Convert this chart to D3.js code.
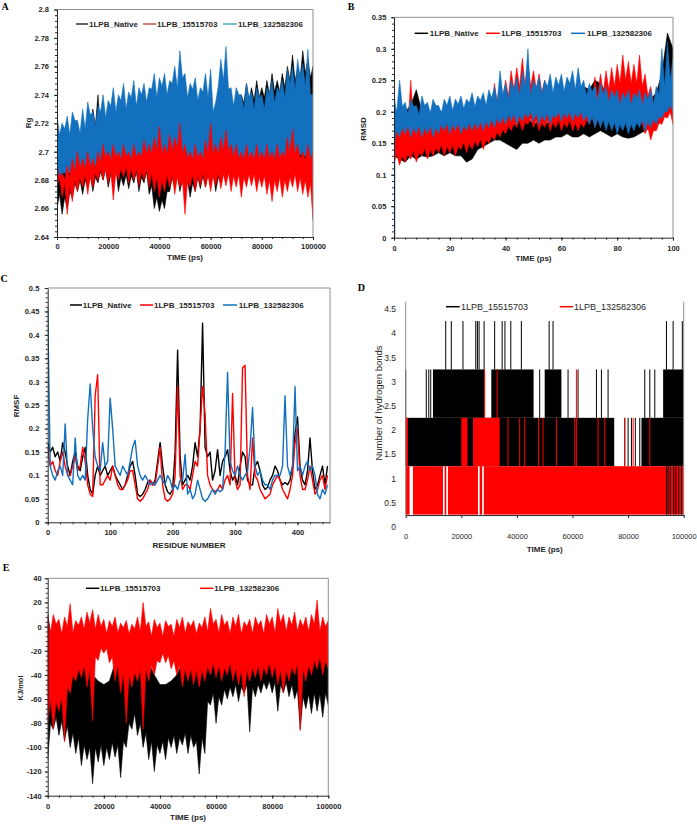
<!DOCTYPE html>
<html><head><meta charset="utf-8">
<script src="https://cdn.jsdelivr.net/npm/d3@7/dist/d3.min.js"></script>
<style>body{margin:0;background:#fff}svg{display:block}</style>
</head><body>
<script>
// ---------------- DATA ----------------
// Panel A : Rg vs time (ps). Upper / lower envelope of each noisy trace, evenly spaced over 0..100000 ps
const rgTimeMax = 100000;
const rgNativeHi = [2.700,2.692,2.700,2.694,2.705,2.698,2.710,2.700,2.712,2.704,
 2.715,2.706,2.720,2.712,2.730,2.718,2.740,2.715,2.720,2.710,
 2.715,2.708,2.720,2.712,2.720,2.712,2.725,2.714,2.720,2.712,
 2.725,2.714,2.720,2.712,2.725,2.716,2.730,2.716,2.725,2.716,
 2.730,2.715,2.720,2.714,2.725,2.718,2.730,2.722,2.735,2.722,
 2.730,2.716,2.720,2.714,2.725,2.714,2.720,2.714,2.725,2.718,
 2.730,2.715,2.720,2.718,2.730,2.720,2.730,2.722,2.735,2.728,
 2.740,2.730,2.740,2.734,2.748,2.736,2.745,2.736,2.750,2.738,
 2.745,2.738,2.750,2.740,2.755,2.742,2.750,2.742,2.755,2.745,
 2.760,2.750,2.768,2.750,2.758,2.752,2.771,2.755,2.765,2.752,2.760];
const rgNativeLo = [2.660,2.670,2.656,2.668,2.660,2.672,2.668,2.678,2.672,2.680,
 2.670,2.680,2.675,2.683,2.672,2.682,2.678,2.686,2.680,2.688,
 2.675,2.684,2.680,2.688,2.672,2.682,2.676,2.684,2.674,2.683,
 2.678,2.686,2.672,2.682,2.678,2.686,2.670,2.676,2.660,2.668,
 2.658,2.666,2.660,2.672,2.672,2.682,2.675,2.684,2.672,2.680,
 2.670,2.680,2.668,2.678,2.672,2.682,2.674,2.683,2.675,2.684,
 2.676,2.685,2.672,2.682,2.678,2.686,2.680,2.688,2.678,2.686,
 2.680,2.688,2.676,2.685,2.680,2.688,2.682,2.690,2.680,2.688,
 2.685,2.692,2.680,2.689,2.682,2.690,2.685,2.692,2.685,2.692,
 2.685,2.692,2.688,2.695,2.690,2.696,2.688,2.695,2.690,2.696,2.680];
const rgRedHi = [2.690,2.682,2.685,2.680,2.690,2.682,2.695,2.686,2.700,2.688,
 2.695,2.688,2.700,2.689,2.695,2.688,2.700,2.692,2.705,2.696,
 2.700,2.694,2.705,2.696,2.700,2.694,2.705,2.696,2.700,2.694,
 2.705,2.696,2.700,2.696,2.708,2.698,2.705,2.698,2.710,2.700,
 2.718,2.698,2.705,2.698,2.712,2.700,2.710,2.702,2.720,2.698,
 2.705,2.695,2.700,2.694,2.705,2.695,2.700,2.694,2.708,2.698,
 2.720,2.698,2.705,2.698,2.710,2.700,2.715,2.700,2.705,2.696,
 2.705,2.695,2.700,2.694,2.705,2.695,2.700,2.694,2.705,2.695,
 2.700,2.694,2.705,2.695,2.700,2.694,2.705,2.695,2.700,2.696,
 2.710,2.698,2.716,2.698,2.705,2.695,2.700,2.694,2.705,2.694,2.700];
const rgRedLo = [2.675,2.682,2.668,2.678,2.656,2.676,2.665,2.680,2.672,2.682,
 2.675,2.684,2.670,2.683,2.675,2.685,2.680,2.688,2.680,2.688,
 2.678,2.686,2.666,2.686,2.680,2.688,2.682,2.690,2.678,2.688,
 2.680,2.688,2.676,2.686,2.680,2.688,2.675,2.685,2.672,2.682,
 2.668,2.680,2.672,2.683,2.675,2.684,2.670,2.682,2.675,2.680,
 2.656,2.680,2.675,2.684,2.672,2.683,2.676,2.685,2.675,2.684,
 2.672,2.683,2.676,2.685,2.674,2.684,2.676,2.685,2.672,2.683,
 2.675,2.684,2.668,2.682,2.675,2.684,2.676,2.684,2.672,2.682,
 2.675,2.683,2.670,2.680,2.665,2.680,2.672,2.682,2.668,2.680,
 2.672,2.682,2.675,2.684,2.672,2.682,2.670,2.680,2.668,2.678,2.652];
const rgBlueHi = [2.725,2.712,2.720,2.716,2.725,2.712,2.728,2.722,2.722,2.713,
 2.730,2.716,2.735,2.726,2.728,2.718,2.732,2.728,2.740,2.724,
 2.736,2.732,2.745,2.728,2.740,2.736,2.748,2.730,2.742,2.738,
 2.750,2.732,2.745,2.740,2.748,2.735,2.745,2.744,2.755,2.738,
 2.752,2.746,2.755,2.740,2.750,2.748,2.760,2.745,2.771,2.752,
 2.755,2.738,2.748,2.744,2.752,2.736,2.745,2.742,2.755,2.738,
 2.758,2.728,2.735,2.746,2.765,2.750,2.774,2.744,2.745,2.732,
 2.745,2.740,2.740,2.730,2.748,2.738,2.742,2.730,2.745,2.738,
 2.740,2.730,2.745,2.740,2.750,2.734,2.745,2.742,2.750,2.738,
 2.758,2.748,2.760,2.744,2.765,2.752,2.762,2.746,2.772,2.740,2.740];
const rgBlueLo = [2.680,2.685,2.685,2.685,2.688,2.688,2.688,2.690,2.690,2.692,2.692,2.694,2.694,2.694,2.694,2.695,2.695,2.695,2.696,2.696,2.696,2.696,2.696,2.698,2.698,2.696,2.695,2.695,2.695,2.695,2.698,2.695,2.698,2.700,2.696,2.695,2.695,2.695,2.695,2.695,2.695,2.695,2.695,2.695,2.695,2.698,2.698,2.698,2.698,2.696,2.695];
const rgTicks = [2.64,2.66,2.68,2.70,2.72,2.74,2.76,2.78,2.80];
const timeTicks = [0,20000,40000,60000,80000,100000];

// Panel B : RMSD vs time (ns)
const rmsdTimeMax = 100;
const rmsdStart = 0;
const rmsdNativeHi = [0.19,0.20,0.20,0.21,0.235,0.20,0.20,0.195,0.20,0.20,0.20,0.20,0.205,0.20,0.21,0.20,0.205,0.20,0.19,0.19,0.18,0.18,0.18,0.21,0.19,0.18,0.185,0.18,0.185,0.19,0.20,0.20,0.21,0.22,0.24,0.235,0.25,0.245,0.23,0.22,0.22,0.215,0.22,0.215,0.22,0.21,0.22,0.23,0.26,0.325,0.30];
const rmsdNativeLo = [0.13,0.125,0.12,0.13,0.125,0.13,0.128,0.13,0.135,0.13,0.135,0.13,0.13,0.12,0.125,0.14,0.145,0.15,0.155,0.155,0.15,0.145,0.14,0.15,0.15,0.155,0.15,0.155,0.155,0.16,0.16,0.165,0.16,0.16,0.165,0.16,0.165,0.17,0.165,0.16,0.165,0.16,0.158,0.16,0.165,0.17,0.175,0.18,0.19,0.20,0.20];
const rmsdRedHi = [0.18,0.17,0.19,0.175,0.20,0.18,0.25,0.18,0.19,0.175,
 0.185,0.175,0.19,0.175,0.185,0.175,0.19,0.178,0.19,0.178,
 0.195,0.18,0.19,0.18,0.195,0.18,0.19,0.18,0.20,0.182,
 0.195,0.182,0.20,0.19,0.22,0.20,0.245,0.215,0.24,0.22,
 0.25,0.225,0.265,0.235,0.27,0.24,0.285,0.24,0.275,0.24,
 0.265,0.235,0.26,0.23,0.25,0.22,0.24,0.21,0.22,0.20,
 0.215,0.198,0.225,0.20,0.21,0.198,0.22,0.20,0.215,0.20,
 0.23,0.21,0.255,0.225,0.26,0.23,0.265,0.235,0.27,0.24,
 0.275,0.245,0.29,0.25,0.28,0.245,0.275,0.245,0.29,0.24,
 0.26,0.225,0.24,0.21,0.23,0.205,0.235,0.21,0.25,0.215,0.23];
const rmsdRedLo = [0.12,0.132,0.115,0.13,0.12,0.133,0.125,0.138,0.12,0.135,
 0.13,0.142,0.125,0.14,0.13,0.143,0.135,0.148,0.13,0.145,
 0.135,0.148,0.13,0.145,0.14,0.152,0.135,0.15,0.14,0.153,
 0.145,0.157,0.14,0.155,0.15,0.162,0.155,0.168,0.16,0.172,
 0.165,0.178,0.17,0.182,0.175,0.186,0.17,0.183,0.18,0.19,
 0.175,0.187,0.17,0.183,0.175,0.187,0.17,0.183,0.175,0.187,
 0.17,0.183,0.175,0.187,0.17,0.182,0.17,0.182,0.175,0.187,
 0.18,0.192,0.175,0.188,0.18,0.192,0.18,0.193,0.185,0.197,
 0.18,0.192,0.185,0.197,0.19,0.20,0.18,0.19,0.185,0.18,
 0.165,0.175,0.155,0.17,0.17,0.182,0.18,0.192,0.19,0.20,0.18];
const rmsdBlueHi = [0.22,0.20,0.25,0.208,0.215,0.196,0.22,0.208,0.21,0.195,
 0.225,0.21,0.215,0.198,0.22,0.21,0.21,0.198,0.22,0.21,
 0.225,0.202,0.22,0.212,0.225,0.205,0.22,0.214,0.23,0.208,
 0.225,0.218,0.23,0.21,0.235,0.222,0.24,0.215,0.265,0.228,
 0.245,0.22,0.25,0.235,0.255,0.225,0.265,0.24,0.30,0.225,
 0.25,0.238,0.255,0.228,0.25,0.24,0.26,0.23,0.255,0.242,
 0.26,0.232,0.255,0.245,0.265,0.235,0.27,0.24,0.25,0.225,
 0.245,0.232,0.24,0.218,0.245,0.228,0.24,0.215,0.235,0.222,
 0.235,0.21,0.23,0.22,0.235,0.21,0.23,0.222,0.235,0.21,
 0.23,0.22,0.235,0.212,0.24,0.228,0.30,0.24,0.31,0.25,0.285];
const rmsdBlueLo = [0.15,0.17,0.16,0.175,0.165,0.178,0.16,0.175,0.165,0.178,
 0.16,0.175,0.165,0.178,0.16,0.175,0.165,0.18,0.17,0.182,
 0.165,0.18,0.17,0.182,0.165,0.178,0.17,0.182,0.17,0.183,
 0.172,0.185,0.17,0.185,0.175,0.188,0.175,0.19,0.18,0.192,
 0.18,0.195,0.185,0.197,0.18,0.195,0.185,0.198,0.19,0.20,
 0.185,0.198,0.18,0.195,0.185,0.198,0.18,0.195,0.19,0.20,
 0.185,0.198,0.19,0.20,0.185,0.198,0.19,0.20,0.185,0.196,
 0.18,0.192,0.175,0.188,0.175,0.188,0.17,0.185,0.17,0.183,
 0.165,0.18,0.17,0.183,0.165,0.18,0.17,0.183,0.175,0.187,
 0.17,0.185,0.175,0.188,0.18,0.192,0.19,0.20,0.20,0.21,0.20];
const rmsdTicks = [0,0.05,0.10,0.15,0.20,0.25,0.30,0.35];
const nsTicks = [0,20,40,60,80,100];

// Panel C : RMSF per residue
const rmsfResidue = d3.range(0, 449, 4);
const rmsfNative = [0.17,0.15,0.16,0.14,0.15,0.13,0.17,0.15,0.12,0.10,0.13,0.15,0.12,0.11,0.14,0.16,0.10,0.07,0.06,0.10,0.12,0.10,0.11,0.12,0.10,0.11,0.12,0.10,0.09,0.08,0.07,0.08,0.10,0.12,0.13,0.10,0.06,0.055,0.06,0.07,0.085,0.09,0.08,0.09,0.13,0.17,0.12,0.08,0.065,0.06,0.07,0.15,0.367,0.14,0.08,0.09,0.10,0.09,0.12,0.17,0.14,0.20,0.425,0.16,0.14,0.15,0.09,0.11,0.155,0.10,0.13,0.14,0.155,0.11,0.09,0.10,0.08,0.12,0.15,0.14,0.09,0.08,0.08,0.12,0.13,0.11,0.08,0.07,0.075,0.09,0.10,0.12,0.11,0.09,0.08,0.085,0.08,0.09,0.12,0.19,0.225,0.12,0.09,0.08,0.11,0.18,0.11,0.07,0.08,0.10,0.12,0.08,0.12];
const rmsfRed = [0.16,0.12,0.13,0.11,0.10,0.13,0.15,0.12,0.10,0.10,0.12,0.14,0.11,0.12,0.16,0.13,0.08,0.06,0.055,0.27,0.315,0.08,0.08,0.09,0.10,0.09,0.12,0.10,0.08,0.07,0.07,0.08,0.09,0.11,0.11,0.08,0.05,0.045,0.05,0.06,0.07,0.09,0.08,0.08,0.12,0.16,0.08,0.05,0.045,0.05,0.06,0.10,0.29,0.10,0.07,0.08,0.08,0.07,0.10,0.13,0.12,0.20,0.29,0.23,0.10,0.08,0.07,0.065,0.07,0.08,0.07,0.09,0.10,0.08,0.275,0.09,0.07,0.08,0.33,0.335,0.10,0.07,0.18,0.10,0.09,0.07,0.06,0.05,0.055,0.06,0.08,0.09,0.10,0.09,0.07,0.06,0.05,0.07,0.10,0.17,0.20,0.10,0.07,0.07,0.09,0.12,0.09,0.06,0.07,0.09,0.10,0.07,0.10];
const rmsfBlue = [0.46,0.12,0.10,0.09,0.11,0.12,0.10,0.21,0.10,0.09,0.08,0.18,0.10,0.09,0.10,0.09,0.22,0.295,0.20,0.14,0.12,0.11,0.17,0.12,0.13,0.265,0.20,0.12,0.11,0.10,0.12,0.11,0.10,0.13,0.16,0.175,0.12,0.10,0.09,0.10,0.09,0.08,0.085,0.08,0.09,0.10,0.09,0.08,0.10,0.09,0.07,0.08,0.07,0.09,0.09,0.145,0.06,0.07,0.05,0.06,0.09,0.07,0.05,0.045,0.05,0.06,0.07,0.06,0.07,0.065,0.07,0.15,0.32,0.13,0.11,0.10,0.12,0.10,0.09,0.10,0.11,0.16,0.245,0.12,0.10,0.11,0.09,0.08,0.08,0.07,0.09,0.10,0.10,0.10,0.12,0.27,0.12,0.10,0.12,0.29,0.11,0.12,0.10,0.12,0.13,0.11,0.12,0.10,0.06,0.05,0.07,0.06,0.08];
const rmsfTicks = [0,0.05,0.10,0.15,0.20,0.25,0.30,0.35,0.40,0.45,0.50];
const residueTicks = [0,100,200,300,400];

// Panel D : number of hydrogen bonds; dense regions [t0, t1, low, high] and single jumps [t, low, high]
const hbBlackBands = [[0,75000,1.25,2.25],[84800,100000,1.25,2.25],[9800,28400,2.25,3.25],[30800,46000,2.25,3.25],[50000,56000,2.25,3.25],[92600,100000,2.25,3.25]];
const hbBlackSpikes = [[0,1.25,3.25],[7400,2.25,3.25],[8300,2.25,3.25],[9000,2.25,3.25],[48200,2.25,3.25],[58400,2.25,3.25],[62000,2.25,3.25],[68600,2.25,3.25],[70400,2.25,3.25],[72800,2.25,3.25],[86000,2.25,3.25],[87800,2.25,3.25],[89600,2.25,3.25],
  [14400,3.25,4.25],[16400,3.25,4.25],[20600,3.25,4.25],[25200,3.25,4.25],[25800,3.25,4.25],[26400,3.25,4.25],[28200,3.25,4.25],[32000,3.25,4.25],[34700,3.25,4.25],[35700,3.25,4.25],[37800,3.25,4.25],[41600,3.25,4.25],[51600,3.25,4.25],[53000,3.25,4.25],[93800,3.25,4.25],[96200,3.25,4.25],[99500,3.25,4.25],
  [78800,1.25,2.25],[80000,1.25,2.25],[81200,1.25,2.25],[82600,1.25,2.25],[84200,1.25,2.25]];
const hbBlackLowSpikes = [[93800,0.25,1.25],[94400,0.25,1.25],[95200,0.25,1.25],[96400,0.25,1.25],[97200,0.25,1.25],[98200,0.25,1.25],[99200,0.25,1.25]];
const hbRedBands = [[0,1400,0.25,1.25],[2600,13400,0.25,1.25],[14000,14600,0.25,1.25],[15200,26000,0.25,1.25],[26600,27500,0.25,1.25],[28100,100000,0.25,1.25],[24200,33800,1.25,2.25],[20000,22200,1.25,2.25],[0,800,1.25,2.25]];
const hbRedSpikes = [[36800,1.25,2.25],[41000,1.25,2.25],[42800,1.25,2.25],[47800,1.25,2.25],[49400,1.25,2.25],[54200,1.25,2.25],[60800,1.25,2.25],[69200,1.25,2.25],[71600,1.25,2.25],[78800,1.25,2.25],[81800,1.25,2.25],[87800,1.25,2.25],[28400,1.25,3.25],[32900,1.25,3.25],[61400,1.25,3.25]];
const hbTicks = [0,0.5,1,1.5,2,2.5,3,3.5,4,4.5];

// Panel E : interaction energy (kJ/mol) vs time (ps)
const enTimeMax = 100000;
const enBlackHi = [10,-20,-30,-30,-30,-30,-30,-30,-40,-45,-48,-45,-30,-30,-30,-30,-30,-30,-30,-40,-48,-48,-45,-40,-30,-30,-30,-30,-30,-25,-25,-25,-25,-25,-25,-25,-25,-25,-25,-25,-25,-25,-25,-25,-25,-25,-20,-20,-15,-20,-20];
const enBlackLo = [-110,-80,-85,-75,-90,-78,-95,-82,-100,-88,
 -105,-92,-115,-98,-110,-100,-130,-100,-112,-98,
 -115,-100,-110,-96,-108,-98,-125,-95,-100,-80,
 -85,-72,-90,-80,-100,-88,-110,-95,-120,-98,
 -105,-95,-110,-92,-100,-90,-105,-92,-98,-88,
 -105,-90,-100,-95,-122,-92,-105,-62,-65,-55,
 -80,-58,-65,-52,-60,-50,-58,-48,-62,-50,
 -55,-48,-87,-50,-58,-48,-55,-46,-52,-45,
 -55,-46,-70,-48,-55,-46,-58,-48,-60,-52,
 -85,-58,-68,-56,-72,-55,-70,-56,-75,-55,-65];
const enRedHi = [8,-5,10,2,6,-6,8,0,19,-5,
 5,1,8,-2,12,3,14,-2,10,0,
 6,-6,5,0,8,-5,3,-1,5,-6,
 2,-2,8,-4,20,0,4,-8,6,-1,
 3,-8,5,0,2,-8,6,-1,8,-5,
 4,0,5,-6,3,-1,8,-4,15,2,
 6,-5,10,1,5,-6,8,0,10,-6,
 4,0,6,-6,8,1,5,-6,10,2,
 8,-5,15,3,10,-4,8,1,12,-4,
 6,0,8,-4,10,2,22,-4,8,0,5];
const enRedLo = [-80,-60,-85,-62,-70,-58,-95,-50,-55,-40,
 -45,-35,-42,-32,-50,-35,-78,-25,-28,-18,
 -22,-18,-30,-25,-45,-32,-55,-38,-80,-40,
 -50,-38,-45,-35,-85,-35,-45,-32,-40,-28,
 -30,-22,-30,-24,-35,-28,-40,-32,-50,-35,
 -45,-35,-48,-36,-50,-36,-45,-33,-40,-30,
 -42,-32,-45,-34,-40,-30,-45,-34,-48,-36,
 -58,-36,-45,-34,-42,-32,-45,-33,-40,-30,
 -42,-32,-48,-35,-55,-36,-45,-33,-40,-30,
 -86,-35,-45,-32,-40,-28,-35,-25,-40,-28,-35];
const enTicks = [-140,-120,-100,-80,-60,-40,-20,0,20,40];

const seriesNames3 = ['1LPB_Native','1LPB_15515703','1LPB_132582306'];
const seriesNames2 = ['1LPB_15515703','1LPB_132582306'];

// ---------------- DRAWING ----------------
const SANS = "'Liberation Sans', Arial, sans-serif";
const SERIF = "'Liberation Serif','Times New Roman',serif";
const C = {black:'#000000', red:'#ff0000', blue:'#1270be', axis:'#262626', border:'#8f8f8f'};
const svg = d3.select('body').append('svg').attr('width',697).attr('height',824);
let clipN = 0;

function fmtNum(d){ return String(+d.toFixed(3)); }

function styleAxis(sel, fs, fw){
  sel.attr('font-family',null).attr('font-size',null);
  sel.selectAll('text').attr('font-family',SANS).attr('font-size',fs).attr('font-weight',fw).attr('fill',C.axis);
  sel.selectAll('line').attr('stroke',C.axis);
  sel.select('.domain').attr('stroke',C.axis);
}

function frame(cfg){
  const {x,y} = cfg;
  const [xl,xr] = x.range(), [yb,yt] = y.range();
  const g = svg.append('g');
  g.append('path').attr('d',`M${xl},${yt}H${xr}V${yb}`).attr('fill','none').attr('stroke',C.border).attr('stroke-width',1);
  if (cfg.xMinor) g.append('g').attr('transform',`translate(0,${yb})`)
     .call(d3.axisBottom(x).tickValues(cfg.xMinor).tickSize(2).tickFormat(''))
     .call(s=>{s.select('.domain').remove(); s.selectAll('line').attr('stroke',C.axis);});
  if (cfg.yMinor) g.append('g').attr('transform',`translate(${xl},0)`)
     .call(d3.axisLeft(y).tickValues(cfg.yMinor).tickSize(2).tickFormat(''))
     .call(s=>{s.select('.domain').remove(); s.selectAll('line').attr('stroke',C.axis);});
  g.append('g').attr('transform',`translate(0,${yb})`)
     .call(d3.axisBottom(x).tickValues(cfg.xTicks).tickSize(3).tickSizeOuter(0).tickPadding(cfg.xPad).tickFormat(fmtNum))
     .call(s=>styleAxis(s,7.5,'bold'));
  g.append('g').attr('transform',`translate(${xl},0)`)
     .call(d3.axisLeft(y).tickValues(cfg.yTicks).tickSize(3).tickSizeOuter(0).tickPadding(cfg.yPad).tickFormat(fmtNum))
     .call(s=>styleAxis(s,7.5,'bold'));
}

function clipFor(x,y){
  const id = 'clip'+(clipN++);
  const [xl,xr] = x.range(), [yb,yt] = y.range();
  svg.append('clipPath').attr('id',id).append('rect').attr('x',xl).attr('y',yt).attr('width',xr-xl).attr('height',yb-yt);
  return svg.append('g').attr('clip-path',`url(#${id})`);
}

// noisy trace drawn as the filled region between its upper and lower envelopes
function band(g,x,y,hi,lo,tMax,color){
  const ph = hi.map((v,i)=>[i*tMax/(hi.length-1), v]);
  const pl = lo.map((v,i)=>[i*tMax/(lo.length-1), v]).reverse();
  const line = d3.line().x(d=>x(d[0])).y(d=>y(d[1]));
  g.append('path').attr('d', line(ph.concat(pl))+'Z')
    .attr('fill',color).attr('stroke',color).attr('stroke-width',0.6).attr('stroke-linejoin','miter');
}

function legend(items, y, fs, fw){
  items.forEach(it=>{
    svg.append('line').attr('x1',it.x0).attr('x2',it.x1).attr('y1',y).attr('y2',y).attr('stroke',it.color).attr('stroke-width',1.5);
    svg.append('text').attr('x',it.tx).attr('y',y).attr('dominant-baseline','central')
      .attr('font-family',SANS).attr('font-size',fs).attr('font-weight',fw).attr('fill',C.axis).text(it.label);
  });
}
function label(txt,x,y,opts={}){
  const t = svg.append('text').attr('x',x).attr('y',y).attr('text-anchor','middle').attr('dominant-baseline','central')
    .attr('font-family',opts.family||SANS).attr('font-size',opts.fs||8).attr('font-weight',opts.fw||'bold').attr('fill',opts.fill||C.axis).text(txt);
  if (opts.rot) t.attr('transform',`rotate(-90,${x},${y})`);
}

// ----- Panel A -----
{
  const x = d3.scaleLinear().domain([0,100000]).range([57,313]);
  const y = d3.scaleLinear().domain([2.64,2.8]).range([237,9.5]);
  const g = clipFor(x,y);
  band(g,x,y,rgNativeHi,rgNativeLo,rgTimeMax,C.black);
  band(g,x,y,rgBlueHi,rgBlueLo,rgTimeMax,C.blue);
  band(g,x,y,rgRedHi,rgRedLo,rgTimeMax,C.red);
  frame({x,y,xTicks:timeTicks,xMinor:d3.range(0,100001,4000),yTicks:rgTicks,yMinor:d3.range(2.64,2.8001,0.004),xPad:4,yPad:5});
  legend([{x0:76,x1:88,tx:89,label:seriesNames3[0],color:'#333'},{x0:143,x1:156,tx:157,label:seriesNames3[1],color:'#c0504d'},{x0:223,x1:237,tx:238,label:seriesNames3[2],color:'#4bacc6'}],24,8,'bold');
  label('TIME (ps)',185,257);
  label('Rg',28,123,{rot:true});
  label('A',5,6,{family:SERIF,fs:10,fill:'#000'});
}
// ----- Panel B -----
{
  const x = d3.scaleLinear().domain([0,100]).range([394,673]);
  const y = d3.scaleLinear().domain([0,0.35]).range([237.7,17.3]);
  const g = clipFor(x,y);
  band(g,x,y,rmsdNativeHi,rmsdNativeLo,rmsdTimeMax,C.black);
  band(g,x,y,rmsdRedHi,rmsdRedLo,rmsdTimeMax,C.red);
  band(g,x,y,rmsdBlueHi,rmsdBlueLo,rmsdTimeMax,C.blue);
  g.append('line').attr('x1',x(0)+0.5).attr('x2',x(0)+0.5).attr('y1',y(rmsdStart)).attr('y2',y(rmsdBlueHi[0])).attr('stroke',C.blue).attr('stroke-width',1.5);
  frame({x,y,xTicks:nsTicks,xMinor:d3.range(0,101,4),yTicks:rmsdTicks,yMinor:d3.range(0,0.3501,0.01),xPad:5,yPad:4.7});
  legend([{x0:414.7,x1:428,tx:429.7,label:seriesNames3[0],color:C.black},{x0:486,x1:499.7,tx:501,label:seriesNames3[1],color:C.red},{x0:571,x1:585,tx:587,label:seriesNames3[2],color:C.blue}],33.3,8,'bold');
  label('TIME (ps)',533.5,258);
  label('RMSD',363,129,{rot:true});
  label('B',351,6,{family:SERIF,fs:10,fill:'#000'});
}
// ----- Panel C -----
{
  const x = d3.scaleLinear().domain([0,452]).range([47.7,330]);
  const y = d3.scaleLinear().domain([0,0.5]).range([522.3,288]);
  const g = clipFor(x,y);
  const line = d3.line().x((d,i)=>x(rmsfResidue[i])).y(d=>y(d));
  [[rmsfNative,C.black],[rmsfRed,C.red],[rmsfBlue,C.blue]].forEach(([s,c])=>{
    g.append('path').datum(s).attr('d',line).attr('fill','none').attr('stroke',c).attr('stroke-width',1.4).attr('stroke-linejoin','round');
  });
  frame({x,y,xTicks:residueTicks,xMinor:d3.range(0,452,20),yTicks:rmsfTicks,yMinor:d3.range(0,0.5001,0.01),xPad:4.4,yPad:5.4});
  legend([{x0:70,x1:82,tx:82.7,label:seriesNames3[0],color:C.black},{x0:140,x1:153,tx:154,label:seriesNames3[1],color:C.red},{x0:223,x1:237,tx:238.7,label:seriesNames3[2],color:C.blue}],305,8,'bold');
  label('RESIDUE NUMBER',189,545);
  label('RMSF',16.7,406,{rot:true});
  label('C',4,278,{family:SERIF,fs:10,fill:'#000'});
}
// ----- Panel D -----
{
  const x = d3.scaleLinear().domain([0,100000]).range([405.7,683.7]);
  const y = d3.scaleLinear().domain([0,4.65]).range([526.7,301.7]);
  const g = svg.append('g');
  const rects = (arr,c)=>g.append('g').selectAll('rect').data(arr).join('rect')
      .attr('x',d=>x(d[0])).attr('width',d=>Math.max(0.8,x(d[1])-x(d[0]))).attr('y',d=>y(d[3])).attr('height',d=>y(d[2])-y(d[3])).attr('fill',c);
  const spikes = (arr,c)=>g.append('g').selectAll('line').data(arr).join('line')
      .attr('x1',d=>x(d[0])).attr('x2',d=>x(d[0])).attr('y1',d=>y(d[1])).attr('y2',d=>y(d[2])).attr('stroke',c).attr('stroke-width',1);
  rects(hbBlackBands,C.black); spikes(hbBlackSpikes,C.black);
  rects(hbRedBands,C.red); spikes(hbRedSpikes,C.red);
  spikes(hbBlackLowSpikes,C.black);
  const axY = y(0.24);
  svg.append('line').attr('x1',x(0)).attr('x2',x(0)).attr('y1',y(4.65)).attr('y2',axY).attr('stroke',C.border);
  svg.append('line').attr('x1',x(100000)).attr('x2',x(100000)).attr('y1',y(4.65)).attr('y2',axY).attr('stroke',C.border);
  svg.append('g').attr('transform',`translate(0,${axY})`)
     .call(d3.axisBottom(x).tickValues(timeTicks).tickSize(3).tickSizeOuter(0).tickPadding(16).tickFormat(fmtNum))
     .call(s=>styleAxis(s,7.5,'normal'));
  svg.append('g').attr('transform',`translate(${x(0)},0)`)
     .call(d3.axisLeft(y).tickValues(hbTicks).tickSize(0).tickPadding(9.7).tickFormat(fmtNum))
     .call(s=>{styleAxis(s,8.5,'normal'); s.select('.domain').remove();});
  legend([{x0:446,x1:459.7,tx:461,label:seriesNames2[0],color:C.black},{x0:559.7,x1:573,tx:574,label:seriesNames2[1],color:C.red}],306.7,9,'normal');
  label('TIME (ps)',544.7,549);
  label('Number of hydrogen bonds',378,403,{rot:true,fs:9.5,fw:'normal'});
  label('D',361.3,287,{family:SERIF,fs:10,fill:'#000'});
}
// ----- Panel E -----
{
  const x = d3.scaleLinear().domain([0,100000]).range([47.7,328.3]);
  const y = d3.scaleLinear().domain([-140,40]).range([795.7,578.3]);
  const g = clipFor(x,y);
  band(g,x,y,enBlackHi,enBlackLo,enTimeMax,C.black);
  band(g,x,y,enRedHi,enRedLo,enTimeMax,C.red);
  frame({x,y,xTicks:timeTicks,xMinor:d3.range(0,100001,4000),yTicks:enTicks,yMinor:d3.range(-140,40.01,4),xPad:5.4,yPad:3});
  legend([{x0:86,x1:99.3,tx:100,label:seriesNames2[0],color:C.black},{x0:200,x1:213.3,tx:214.3,label:seriesNames2[1],color:C.red}],588.3,8,'bold');
  label('TIME (ps)',188,817.7);
  label('KJ/mol',20,688,{rot:true,fs:7.5});
  label('E',6,567,{family:SERIF,fs:10,fill:'#000'});
}
</script>
</body></html>
